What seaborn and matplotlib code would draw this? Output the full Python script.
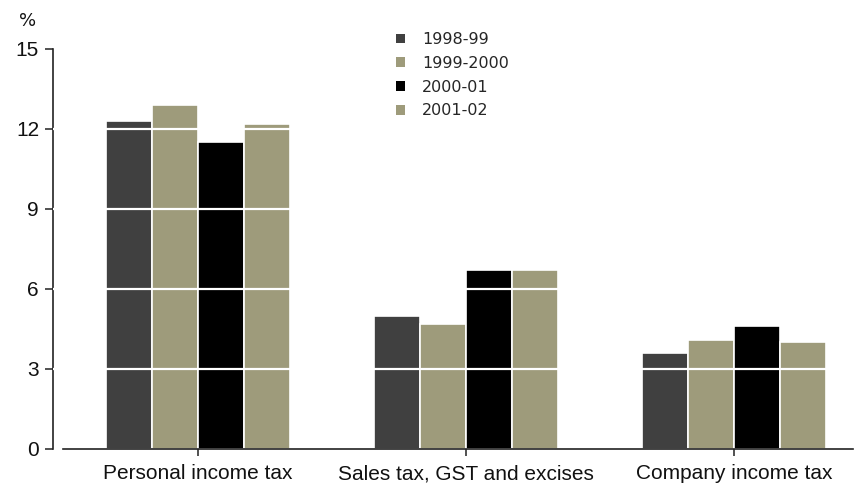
import matplotlib
matplotlib.use("Agg")
import matplotlib.pyplot as plt
import seaborn as sns
import pandas as pd

# Tax revenue growth by type and financial year
categories = ["Personal income tax", "Sales tax, GST and excises", "Company income tax"]
years = ["1998-99", "1999-2000", "2000-01", "2001-02"]
values_1998_99 = [12.3, 5.0, 3.6]
values_1999_2000 = [12.9, 4.7, 4.1]
values_2000_01 = [11.5, 6.7, 4.6]
values_2001_02 = [12.2, 6.7, 4.0]
y_ticks = [0, 3, 6, 9, 12, 15]

series = [values_1998_99, values_1999_2000, values_2000_01, values_2001_02]
df = pd.DataFrame(
    [(cat, yr, v) for yr, vals in zip(years, series) for cat, v in zip(categories, vals)],
    columns=["category", "year", "value"],
)

palette = {"1998-99": "#404040", "1999-2000": "#9e9b7b", "2000-01": "#000000", "2001-02": "#9e9b7b"}

sns.set_theme(style="white")
plt.rcParams["font.family"] = ["Liberation Sans", "DejaVu Sans"]

fig = plt.figure(figsize=(8.55, 4.83), dpi=100)
ax = fig.add_axes([53 / 855, 34 / 483, 800 / 855, 400 / 483])

sns.barplot(
    data=df, x="category", y="value", hue="year", order=categories, hue_order=years,
    palette=palette, width=0.69, edgecolor="white", linewidth=1.2, saturation=1,
    errorbar=None, ax=ax, zorder=2,
)

# white rules cutting through the bars
for t in y_ticks[1:-1]:
    ax.axhline(t, color="white", lw=1.6, zorder=3)

ax.set_xlim(-0.541, 2.444)
ax.set_ylim(0, 15)
ax.set_yticks(y_ticks)
ax.set_xlabel("")
ax.set_ylabel("")

for side in ("top", "right"):
    ax.spines[side].set_visible(False)
for side in ("left", "bottom"):
    ax.spines[side].set_color("#222222")
    ax.spines[side].set_linewidth(1.2)
ax.spines["bottom"].set_bounds(-0.504, 2.444)

ax.tick_params(axis="y", which="major", direction="out", length=6, width=1.1,
               color="#222222", labelsize=15, pad=4, left=True)
ax.tick_params(axis="x", which="major", direction="out", length=5, width=1.1,
               color="#222222", labelsize=15, pad=6, bottom=True)
for lab in ax.get_xticklabels() + ax.get_yticklabels():
    lab.set_color("#111111")

ax.text(-0.032, 1.07, "%", transform=ax.transAxes, ha="center", va="center",
        fontsize=13, color="#111111", family=["DejaVu Sans"])

leg = ax.legend(
    loc="upper left", bbox_to_anchor=(388 / 855, 1 - 24 / 483), bbox_transform=fig.transFigure,
    frameon=False, handlelength=0.55, handleheight=0.55, handletextpad=1.1,
    labelspacing=0.55, borderpad=0, prop={"family": "DejaVu Sans", "size": 11.5},
)
for h in leg.legend_handles:
    h.set_edgecolor("none")

fig.savefig("out.png", dpi=100)
